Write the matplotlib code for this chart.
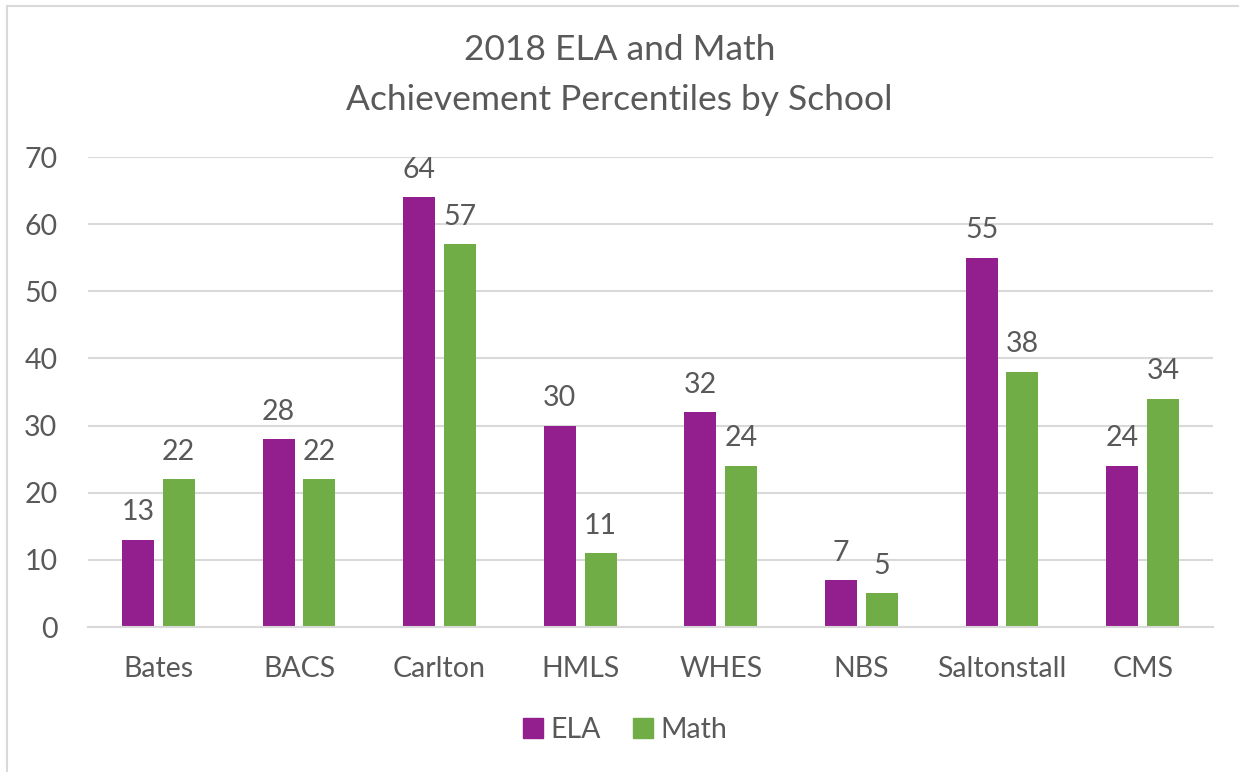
import matplotlib.pyplot as plt
import numpy as np
from matplotlib.lines import Line2D

plt.rcParams["font.family"] = ["Lato", "DejaVu Sans"]

schools = ["Bates", "BACS", "Carlton", "HMLS", "WHES", "NBS", "Saltonstall", "CMS"]
ela = [13, 28, 64, 30, 32, 7, 55, 24]
math = [22, 22, 57, 11, 24, 5, 38, 34]

ELA_COLOR = "#931F8E"
MATH_COLOR = "#70AD47"
TEXT = "#595959"
GRID = "#D9D9D9"
FS = 20.5

fig = plt.figure(figsize=(12.39, 7.72), dpi=100)
ax = fig.add_axes([88 / 1239, 1 - 627 / 772, (1213 - 88) / 1239, 470 / 772])

x = np.arange(len(schools))
w = 0.227
off = 0.145
b1 = ax.bar(x - off, ela, w, color=ELA_COLOR, zorder=2)
b2 = ax.bar(x + off, math, w, color=MATH_COLOR, zorder=2)

for bars in (b1, b2):
    for r in bars:
        ax.annotate(f"{r.get_height():g}", (r.get_x() + r.get_width() / 2, r.get_height()),
                    xytext=(0, 14), textcoords="offset points", ha="center",
                    va="baseline", fontsize=FS, color=TEXT)

ax.set_xlim(-0.5, len(schools) - 0.5)
ax.set_ylim(0, 70)
ax.set_yticks(range(0, 71, 10))
ax.set_xticks(x)
ax.set_xticklabels(schools)
ax.tick_params(axis="both", length=0, labelsize=FS, labelcolor=TEXT)
ax.tick_params(axis="x", pad=21)
ax.tick_params(axis="y", pad=22)
ax.grid(axis="y", color=GRID, lw=1.5, zorder=0)
for s in ("top", "right", "left"):
    ax.spines[s].set_visible(False)
ax.spines["bottom"].set_color(GRID)
ax.spines["bottom"].set_linewidth(1.5)

fig.text(0.5, 1 - 50 / 772, "2018 ELA and Math", ha="center", va="center",
         fontsize=25.5, color=TEXT)
fig.text(0.5, 1 - 100 / 772, "Achievement Percentiles by School", ha="center",
         va="center", fontsize=25.5, color=TEXT)

handles = [Line2D([], [], marker="s", ls="", ms=14, color=ELA_COLOR),
           Line2D([], [], marker="s", ls="", ms=14, color=MATH_COLOR)]
fig.legend(handles, ["ELA", "Math"], loc="center", bbox_to_anchor=(0.503, 1 - 730 / 772),
           ncol=2, frameon=False, fontsize=FS, labelcolor=TEXT,
           handletextpad=0.1, columnspacing=1.0, handlelength=1.0)

# chart frame (top and left edges visible in the crop)
fig.add_artist(Line2D([7 / 1239, 7 / 1239], [0, 1 - 6 / 772], color=GRID, lw=1.5))
fig.add_artist(Line2D([7 / 1239, 1], [1 - 6 / 772, 1 - 6 / 772], color=GRID, lw=1.5))

fig.savefig("out.png", dpi=100)
